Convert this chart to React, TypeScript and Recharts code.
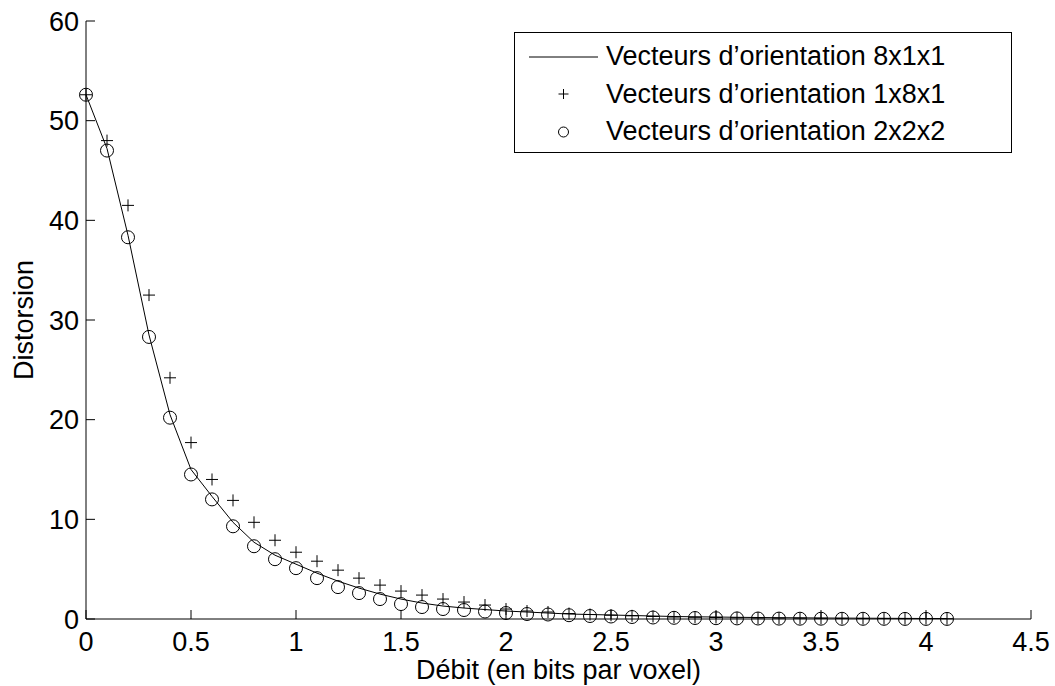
import {
  ComposedChart,
  Line,
  Scatter,
  XAxis,
  YAxis,
  Legend,
} from "recharts";

const FONT = '"Liberation Sans", Arial, Helvetica, sans-serif';

// bit rate (bits per voxel)
const rates = [
  0, 0.1, 0.2, 0.3, 0.4, 0.5, 0.6, 0.7, 0.8, 0.9, 1.0, 1.1, 1.2, 1.3, 1.4, 1.5, 1.6, 1.7, 1.8, 1.9, 2.0,
  2.1, 2.2, 2.3, 2.4, 2.5, 2.6, 2.7, 2.8, 2.9, 3.0, 3.1, 3.2, 3.3, 3.4, 3.5, 3.6, 3.7, 3.8, 3.9, 4.0, 4.1,
];

// distortion, orientation vectors 8x1x1 (solid line)
const dist811 = [
  52.6, 47.2, 38.5, 28.5, 20.5, 15.0, 12.3, 9.7, 7.7, 6.4, 5.5, 4.6, 3.8, 3.1, 2.5, 2.0, 1.6, 1.3, 1.1,
  0.95, 0.8, 0.7, 0.6, 0.5, 0.45, 0.4, 0.35, 0.3, 0.25, 0.22, 0.2, 0.17, 0.15, 0.13, 0.12, 0.1, 0.09,
  0.08, 0.07, 0.06, 0.05, 0.05,
];

// distortion, orientation vectors 1x8x1 (+)
const dist181 = [
  52.6, 48.0, 41.5, 32.5, 24.2, 17.7, 14.0, 11.9, 9.7, 7.9, 6.7, 5.8, 4.9, 4.1, 3.4, 2.8, 2.4, 2.0, 1.7,
  1.4, 1.0, 0.8, 0.7, 0.55, 0.45, 0.38, 0.32, 0.25, 0.2, 0.17, 0.15, 0.12, 0.1, 0.09, 0.08, 0.07, 0.06,
  0.05, 0.05, 0.04, 0.04, 0.03,
];

// distortion, orientation vectors 2x2x2 (o)
const dist222 = [
  52.6, 47.0, 38.3, 28.3, 20.2, 14.5, 12.0, 9.3, 7.3, 6.0, 5.1, 4.1, 3.2, 2.6, 2.0, 1.5, 1.2, 1.0, 0.9,
  0.75, 0.6, 0.5, 0.45, 0.38, 0.3, 0.25, 0.2, 0.15, 0.12, 0.1, 0.08, 0.06, 0.05, 0.04, 0.03, 0.03, 0.02,
  0.02, 0.02, 0.01, 0.01, 0.01,
];

const seriesNames = [
  "Vecteurs d\u2019orientation 8x1x1",
  "Vecteurs d\u2019orientation 1x8x1",
  "Vecteurs d\u2019orientation 2x2x2",
];

const xTicks = [0, 0.5, 1, 1.5, 2, 2.5, 3, 3.5, 4, 4.5];
const yTicks = [0, 10, 20, 30, 40, 50, 60];

const data = rates.map((r, i) => ({
  x: r,
  a: dist811[i],
  b: dist181[i],
  c: dist222[i],
}));

const PlusShape = (props: any) => {
  const { cx, cy } = props;
  if (cx == null || cy == null) return null;
  const s = 6;
  return (
    <path
      d={`M${cx - s},${cy}H${cx + s}M${cx},${cy - s}V${cy + s}`}
      stroke="#000"
      strokeWidth={1}
      fill="none"
    />
  );
};

const CircleShape = (props: any) => {
  const { cx, cy } = props;
  if (cx == null || cy == null) return null;
  return <circle cx={cx} cy={cy} r={6.5} stroke="#000" strokeWidth={1} fill="none" />;
};

function LegendBox() {
  const row = { display: "flex", alignItems: "center", height: 37.5 } as const;
  const sample = { width: 69, height: 20, marginLeft: 14, marginRight: 8, flexShrink: 0 } as const;
  return (
    <div
      style={{
        boxSizing: "border-box",
        width: 498,
        height: 121,
        border: "1px solid #000",
        background: "#fff",
        paddingTop: 5,
        fontFamily: FONT,
        fontSize: 27,
        color: "#000",
        lineHeight: 1,
      }}
    >
      <div style={row}>
        <svg style={sample}>
          <line x1={0} y1={10} x2={69} y2={10} stroke="#000" strokeWidth={1} />
        </svg>
        <span>{seriesNames[0]}</span>
      </div>
      <div style={row}>
        <svg style={sample}>
          <path d="M29.5,10H39.5M34.5,5V15" stroke="#000" strokeWidth={1} fill="none" />
        </svg>
        <span>{seriesNames[1]}</span>
      </div>
      <div style={row}>
        <svg style={sample}>
          <circle cx={34.5} cy={10} r={5} stroke="#000" strokeWidth={1} fill="none" />
        </svg>
        <span>{seriesNames[2]}</span>
      </div>
    </div>
  );
}

export default function App() {
  const tickStyle = { fill: "#000", fontSize: 27, fontFamily: FONT };
  return (
    <div style={{ position: "absolute", left: 0, top: 0, width: 1055, height: 686, background: "#fff" }}>
      <ComposedChart
        width={1055}
        height={686}
        data={data}
        margin={{ top: 21, right: 24, bottom: 7, left: 0 }}
      >
        <XAxis
          dataKey="x"
          type="number"
          domain={[0, 4.5]}
          ticks={xTicks}
          interval={0}
          height={60}
          tick={tickStyle}
          tickSize={-9}
          tickMargin={22}
          stroke="#000"
          axisLine={{ stroke: "#000", strokeWidth: 1 }}
          tickLine={{ stroke: "#000", strokeWidth: 1 }}
          label={{
            value: "Débit (en bits par voxel)",
            position: "insideBottom",
            offset: 0,
            fill: "#000",
            fontSize: 27,
            fontFamily: FONT,
          }}
        />
        <YAxis
          type="number"
          domain={[0, 60]}
          ticks={yTicks}
          interval={0}
          width={86}
          tick={tickStyle}
          tickSize={-9}
          tickMargin={16}
          stroke="#000"
          axisLine={{ stroke: "#000", strokeWidth: 1 }}
          tickLine={{ stroke: "#000", strokeWidth: 1 }}
          label={{
            value: "Distorsion",
            angle: -90,
            position: "insideLeft",
            offset: 23,
            fill: "#000",
            fontSize: 27,
            fontFamily: FONT,
            style: { textAnchor: "middle" },
          }}
        />
        <Legend
          layout="horizontal"
          verticalAlign="middle"
          content={() => <LegendBox />}
          wrapperStyle={{ left: 514, top: 32, width: 498, height: 121 }}
        />
        <Line
          name={seriesNames[0]}
          dataKey="a"
          type="linear"
          stroke="#000"
          strokeWidth={1}
          dot={false}
          activeDot={false}
          isAnimationActive={false}
        />
        <Scatter
          name={seriesNames[1]}
          dataKey="b"
          shape={PlusShape}
          isAnimationActive={false}
        />
        <Scatter
          name={seriesNames[2]}
          dataKey="c"
          shape={CircleShape}
          isAnimationActive={false}
        />
      </ComposedChart>
    </div>
  );
}
